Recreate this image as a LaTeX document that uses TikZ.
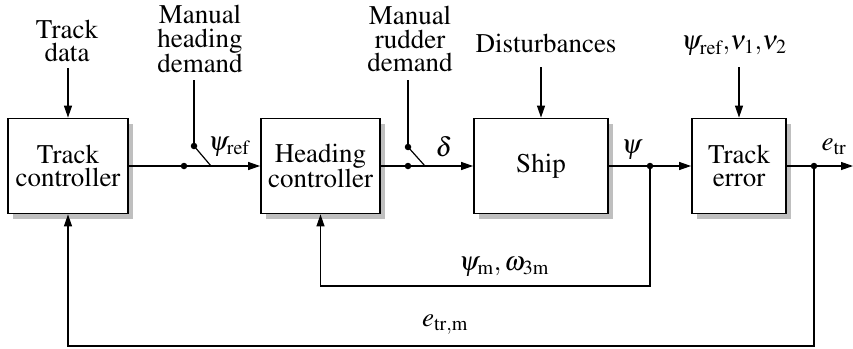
\documentclass[tikz,border=0pt]{standalone}
\usepackage[T1]{fontenc}
\usepackage{mathptmx}
\usetikzlibrary{arrows.meta,shadows}
\begin{document}
\begin{tikzpicture}[x=1pt,y=-1pt,
  font=\rmfamily\fontsize{27}{23.5}\selectfont,
  blk/.style={draw, line width=1.8pt, fill=white, inner sep=0pt, align=center,
    minimum height=95pt,
    general shadow={fill=black!25, shadow xshift=5pt, shadow yshift=-5pt}},
  conn/.style={line width=1.2pt},
  arr/.style={conn, -{Triangle[length=12pt,width=8pt]}},
  dot/.style={circle, fill, inner sep=0pt, minimum size=6.5pt},
  lbl/.style={align=center, inner sep=0pt}]
\useasboundingbox (0,0) rectangle (853,348);

% blocks
\node[blk, minimum width=120pt] (tc) at (68,166) {Track\\controller};
\node[blk, minimum width=119pt] (hc) at (320.5,166) {Heading\\controller};
\node[blk, minimum width=134pt] (sh) at (541,166) {Ship};
\node[blk, minimum width=94pt] (te) at (739,166) {Track\\error};

% top labels
\node[lbl] (td) at (67,41) {Track\\data};
\node[lbl] (mhd) at (200,39) {Manual\\heading\\demand};
\node[lbl] (mrd) at (410,39) {Manual\\rudder\\demand};
\node[lbl] (dist) at (546,43) {Disturbances};
\node[lbl] (tei) at (734,46) {$\psi_{\mathrm{ref}}{,}\nu_1{,}\nu_2$};

% signal labels
\node[lbl] (lpr) at (229,147) {$\psi_{\mathrm{ref}}$};
\node[lbl] (ld) at (444,147) {$\delta$};
\node[lbl] (lp) at (632,150) {$\psi$};
\node[lbl] (le) at (834,147) {$e_{\mathrm{tr}}$};
\node[lbl] (lpm) at (504,267) {$\psi_{\mathrm{m}},\omega_{3\mathrm{m}}$};
\node[lbl] (lem) at (445,325) {$e_{\mathrm{tr,m}}$};

% dots
\node[dot] (d1) at (184,166) {};
\node[dot] (u1) at (194,146) {};
\coordinate (p1) at (211,166);
\node[dot] (d2) at (408,166) {};
\node[dot] (u2) at (408,147) {};
\coordinate (p2) at (425,166);
\node[dot] (d4) at (650,166) {};
\node[dot] (d5) at (814,166) {};

% input arrows
\coordinate (td0) at (68,68);
\coordinate (ds0) at (541,67);
\coordinate (te0) at (739,67);
\draw[arr] (td0) -- (tc.north);
\draw[arr] (ds0) -- (sh.north);
\draw[arr] (te0) -- (te.north);

% manual switches
\coordinate (mh0) at (194,80);
\coordinate (mr0) at (408,80);
\draw[conn] (mh0) -- (u1);
\draw[conn] (mr0) -- (u2);
\draw[conn] (u1.center) -- (p1);
\draw[conn] (u2.center) -- (p2);

% main path
\draw[arr] (tc.east) -- (hc.west);
\draw[arr] (hc.east) -- (sh.west);
\draw[arr] (sh.east) -- (te.west);
\coordinate (out) at (853,166);
\draw[arr] (te.east) -- (out);

% feedbacks
\coordinate (f1) at (650,286);
\coordinate (f2) at (814,346);
\draw[arr] (d4.center) -- (f1) -| (hc.south);
\draw[arr] (d5.center) -- (f2) -| (tc.south);
\end{tikzpicture}
\end{document}
